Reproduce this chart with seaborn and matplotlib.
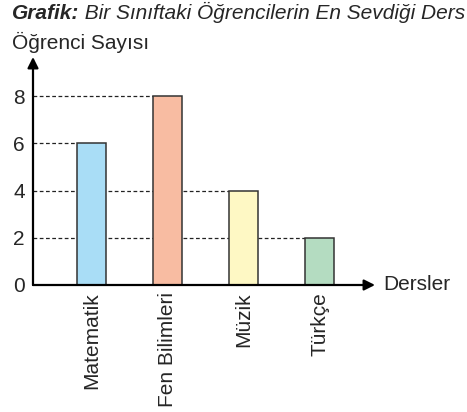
import matplotlib
matplotlib.use("Agg")
import matplotlib.pyplot as plt
import seaborn as sns
import pandas as pd

# veriler
dersler = ["Matematik", "Fen Bilimleri", "Müzik", "Türkçe"]
ogrenci_sayisi = [6, 8, 4, 2]
renkler = ["#a9ddf6", "#f8bca2", "#fef8c4", "#b4dcc1"]
y_ticks = [0, 2, 4, 6, 8]

df = pd.DataFrame({"Ders": dersler, "Sayi": ogrenci_sayisi})

sns.set_theme(style="white")
plt.rcParams["font.family"] = ["Liberation Sans", "DejaVu Sans"]

fig = plt.figure(figsize=(4.67, 4.12), dpi=100)
ax = fig.add_axes([33 / 467, 1 - 285 / 412, (375 - 33) / 467, (285 - 57) / 412])

bar_w = 0.38
sns.barplot(data=df, x="Ders", y="Sayi", hue="Ders", palette=renkler,
            saturation=1, width=bar_w, edgecolor="#333333", linewidth=1.1,
            legend=False, zorder=3, ax=ax)

x_min, x_max = -0.77, 3.73
ax.set_xlim(x_min, x_max)
ax.set_ylim(0, 9.66)

# kesikli yardımcı çizgiler: eksenden ilgili sütunun sol kenarına kadar
for i, v in enumerate(ogrenci_sayisi):
    ax.hlines(v, x_min, i - bar_w / 2, colors="#222222", linestyles=(0, (3, 2)),
              linewidth=0.9, zorder=1)

for s in ax.spines.values():
    s.set_visible(False)

# ok uçlu eksenler
ax.annotate("", xy=(0, 1), xytext=(0, 0), xycoords="axes fraction",
            arrowprops=dict(arrowstyle="-|>", color="black", lw=1.6,
                            mutation_scale=16, shrinkA=0, shrinkB=0))
ax.annotate("", xy=(1, 0), xytext=(0, 0), xycoords="axes fraction",
            arrowprops=dict(arrowstyle="-|>", color="black", lw=1.6,
                            mutation_scale=16, shrinkA=0, shrinkB=0))

ax.set_yticks(y_ticks)
ax.set_yticklabels([str(t) for t in y_ticks], fontsize=15)
ax.tick_params(axis="y", length=0, pad=6)
ax.tick_params(axis="x", length=0, pad=5)
ax.set_xticks(range(len(dersler)))
ax.set_xticklabels(dersler, rotation=90, fontsize=15, va="top", ha="center")
ax.set_xlabel("")
ax.set_ylabel("")
ax.grid(False)

ax.text(1.025, 0, "Dersler", transform=ax.transAxes, fontsize=15,
        va="center", ha="left")

# başlıklar
t1 = fig.text(12 / 467, 1 - 4 / 412, "Grafik:", fontsize=15, fontweight="bold",
              fontstyle="italic", va="top", ha="left")
ax.annotate(" Bir Sınıftaki Öğrencilerin En Sevdiği Ders", xy=(1, 0),
            xycoords=t1, fontsize=15, fontstyle="italic",
            va="bottom", ha="left", annotation_clip=False)
fig.text(12 / 467, 1 - 32 / 412, "Öğrenci Sayısı", fontsize=15,
         va="top", ha="left")

fig.savefig("out.png", dpi=100)
